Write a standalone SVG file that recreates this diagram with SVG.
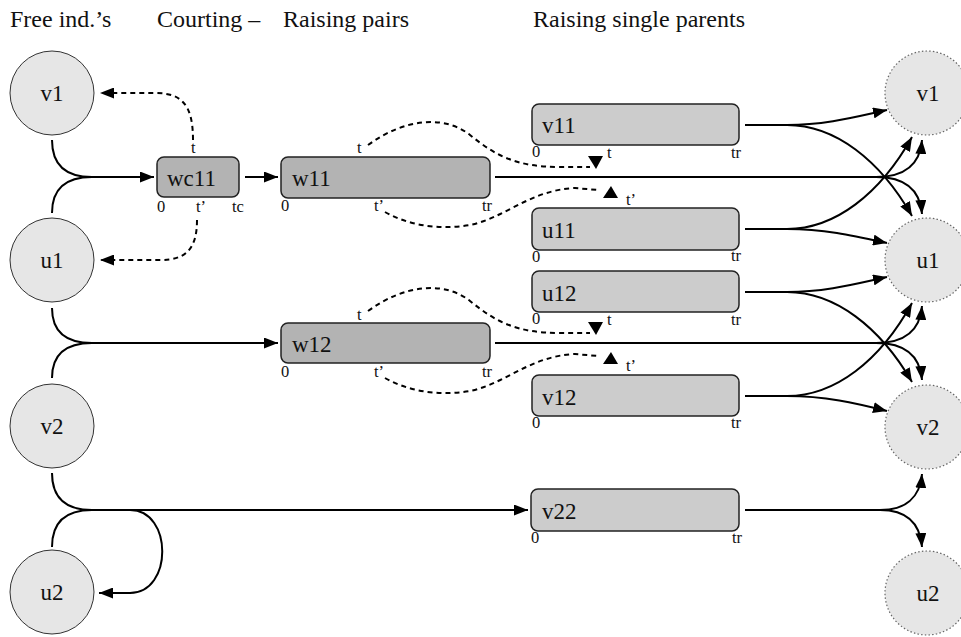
<svg xmlns="http://www.w3.org/2000/svg" width="961" height="637" viewBox="0 0 961 637" font-family="'Liberation Serif', 'Times New Roman', Times, 'DejaVu Serif', serif">
<style>
text{font-family:"Liberation Serif","Times New Roman",Times,"DejaVu Serif",serif;fill:#111}
.hdr{font-size:24px}
.lbl{font-size:23px}
.clbl{font-size:23px;text-anchor:middle}
.sm{font-size:16.5px}
.cl{fill:#e6e6e6;stroke:#333;stroke-width:1}
.cr{fill:#e6e6e6;stroke:#666;stroke-width:1.2;stroke-dasharray:1.5 2.2}
.bd{fill:#b3b3b3;stroke:#222;stroke-width:1.5}
.bl{fill:#cccccc;stroke:#222;stroke-width:1.5}
.ln{fill:none;stroke:#000;stroke-width:2}
.ds{fill:none;stroke:#000;stroke-width:2;stroke-dasharray:5 4}
.ah{fill:#000;stroke:none}
</style>
<defs>
<marker id="arr" markerUnits="userSpaceOnUse" markerWidth="14" markerHeight="11" viewBox="0 0 14 11" refX="14" refY="5.5" orient="auto">
<path d="M0,0 L14,5.5 L0,11 z" fill="#000"/>
</marker>
</defs>

<g id="headers">
<text class="hdr" x="10" y="27">Free ind.’s</text>
<text class="hdr" x="157" y="27">Courting –</text>
<text class="hdr" x="283" y="27">Raising pairs</text>
<text class="hdr" x="533" y="27">Raising single parents</text>
</g>

<g id="connectors">
<path class="ln" d="M52 140 Q52 177 92 177 L154 177" marker-end="url(#arr)"/>
<path class="ln" d="M52 213 Q52 177 92 177"/>
<path class="ln" d="M245 177 L278 177" marker-end="url(#arr)"/>
<path class="ln" d="M52 308 Q52 343 92 343 L278 343" marker-end="url(#arr)"/>
<path class="ln" d="M52 378 Q52 343 92 343"/>
<path class="ln" d="M52 473 Q52 510 92 510 L528 510" marker-end="url(#arr)"/>
<path class="ln" d="M52 547 Q52 510 92 510"/>
<path class="ln" d="M130 510 C173 510 173 593 130 593 L99 593" marker-end="url(#arr)"/>

<path class="ds" d="M193 140 C193 105 182 93 155 93 L100 93" marker-end="url(#arr)"/>
<path class="ds" d="M197 220 C197 250 185 260 160 260 L100 260" marker-end="url(#arr)"/>

<path class="ds" d="M368 145 C405 118 445 115 470 135 C495 155 515 167 560 167 L590 167"/>
<polygon class="ah" points="588,156 603,156 596,169"/>
<path class="ds" d="M385 212 C410 226 440 230 470 225 C505 218 530 190 575 188 L598 190"/>
<polygon class="ah" points="603,198 618,198 611,186"/>

<path class="ds" d="M368 311 C405 284 445 281 470 301 C495 321 515 333 560 333 L590 333"/>
<polygon class="ah" points="588,322 603,322 596,335"/>
<path class="ds" d="M385 378 C410 392 440 396 470 391 C505 384 530 356 575 354 L598 356"/>
<polygon class="ah" points="603,364 618,364 611,352"/>

<path class="ln" d="M745 125 L787 125 C825 125 855 117 887 110" marker-end="url(#arr)"/>
<path class="ln" d="M787 125 C835 125 880 160 912 216" marker-end="url(#arr)"/>
<path class="ln" d="M745 229 L787 229 C825 229 855 236 887 243" marker-end="url(#arr)"/>
<path class="ln" d="M787 229 C835 229 880 194 912 137" marker-end="url(#arr)"/>
<path class="ln" d="M495 177 L876 177 C905 177 920 165 922 140" marker-end="url(#arr)"/>
<path class="ln" d="M876 177 C905 177 920 189 922 214" marker-end="url(#arr)"/>

<path class="ln" d="M745 292 L787 292 C825 292 855 284 887 277" marker-end="url(#arr)"/>
<path class="ln" d="M787 292 C835 292 880 327 912 382" marker-end="url(#arr)"/>
<path class="ln" d="M745 396 L787 396 C825 396 855 403 887 411" marker-end="url(#arr)"/>
<path class="ln" d="M787 396 C835 396 880 361 912 303" marker-end="url(#arr)"/>
<path class="ln" d="M495 343 L876 343 C905 343 920 331 922 306" marker-end="url(#arr)"/>
<path class="ln" d="M876 343 C905 343 920 355 922 380" marker-end="url(#arr)"/>

<path class="ln" d="M745 510 L880 510 C905 510 920 498 922 474" marker-end="url(#arr)"/>
<path class="ln" d="M880 510 C905 510 920 522 922 547" marker-end="url(#arr)"/>
</g>

<g id="v1-left"><circle class="cl" cx="52" cy="93" r="42"/><text class="clbl" x="52" y="101">v1</text></g>
<g id="u1-left"><circle class="cl" cx="52" cy="260" r="42"/><text class="clbl" x="52" y="268">u1</text></g>
<g id="v2-left"><circle class="cl" cx="52" cy="426" r="42"/><text class="clbl" x="52" y="434">v2</text></g>
<g id="u2-left"><circle class="cl" cx="52" cy="592" r="42"/><text class="clbl" x="52" y="600">u2</text></g>

<g id="v1-right"><circle class="cr" cx="927" cy="93" r="42"/><text class="clbl" x="928" y="101">v1</text></g>
<g id="u1-right"><circle class="cr" cx="927" cy="260" r="42"/><text class="clbl" x="928" y="268">u1</text></g>
<g id="v2-right"><circle class="cr" cx="927" cy="427" r="42"/><text class="clbl" x="928" y="435">v2</text></g>
<g id="u2-right"><circle class="cr" cx="927" cy="593" r="42"/><text class="clbl" x="928" y="601">u2</text></g>

<g id="wc11">
<rect class="bd" x="157" y="157" width="82" height="40" rx="7"/>
<text class="lbl" x="167" y="186">wc11</text>
<text class="sm" x="191" y="153">t</text>
<text class="sm" x="157" y="212">0</text>
<text class="sm" x="196" y="212">t’</text>
<text class="sm" x="232" y="212">tc</text>
</g>
<g id="w11">
<rect class="bd" x="281" y="157" width="209" height="41" rx="7"/>
<text class="lbl" x="292" y="186">w11</text>
<text class="sm" x="357" y="153">t</text>
<text class="sm" x="281" y="211">0</text>
<text class="sm" x="374" y="211">t’</text>
<text class="sm" x="482" y="211">tr</text>
</g>
<g id="v11">
<rect class="bl" x="532" y="104" width="207" height="41" rx="7"/>
<text class="lbl" x="542" y="133">v11</text>
<text class="sm" x="532" y="157">0</text>
<text class="sm" x="607" y="158">t</text>
<text class="sm" x="731" y="158">tr</text>
</g>
<g id="u11">
<rect class="bl" x="532" y="208" width="207" height="42" rx="7"/>
<text class="lbl" x="542" y="238">u11</text>
<text class="sm" x="626" y="205">t’</text>
<text class="sm" x="532" y="262">0</text>
<text class="sm" x="731" y="261">tr</text>
</g>
<g id="u12">
<rect class="bl" x="532" y="271" width="207" height="41" rx="7"/>
<text class="lbl" x="542" y="301">u12</text>
<text class="sm" x="532" y="324">0</text>
<text class="sm" x="607" y="325">t</text>
<text class="sm" x="731" y="325">tr</text>
</g>
<g id="w12">
<rect class="bd" x="281" y="323" width="209" height="40" rx="7"/>
<text class="lbl" x="292" y="352">w12</text>
<text class="sm" x="357" y="320">t</text>
<text class="sm" x="281" y="377">0</text>
<text class="sm" x="374" y="377">t’</text>
<text class="sm" x="482" y="377">tr</text>
</g>
<g id="v12">
<rect class="bl" x="532" y="375" width="207" height="41" rx="7"/>
<text class="lbl" x="542" y="405">v12</text>
<text class="sm" x="626" y="371">t’</text>
<text class="sm" x="532" y="428">0</text>
<text class="sm" x="731" y="428">tr</text>
</g>
<g id="v22">
<rect class="bl" x="531" y="489" width="208" height="42" rx="7"/>
<text class="lbl" x="542" y="519">v22</text>
<text class="sm" x="531" y="543">0</text>
<text class="sm" x="732" y="543">tr</text>
</g>
</svg>
